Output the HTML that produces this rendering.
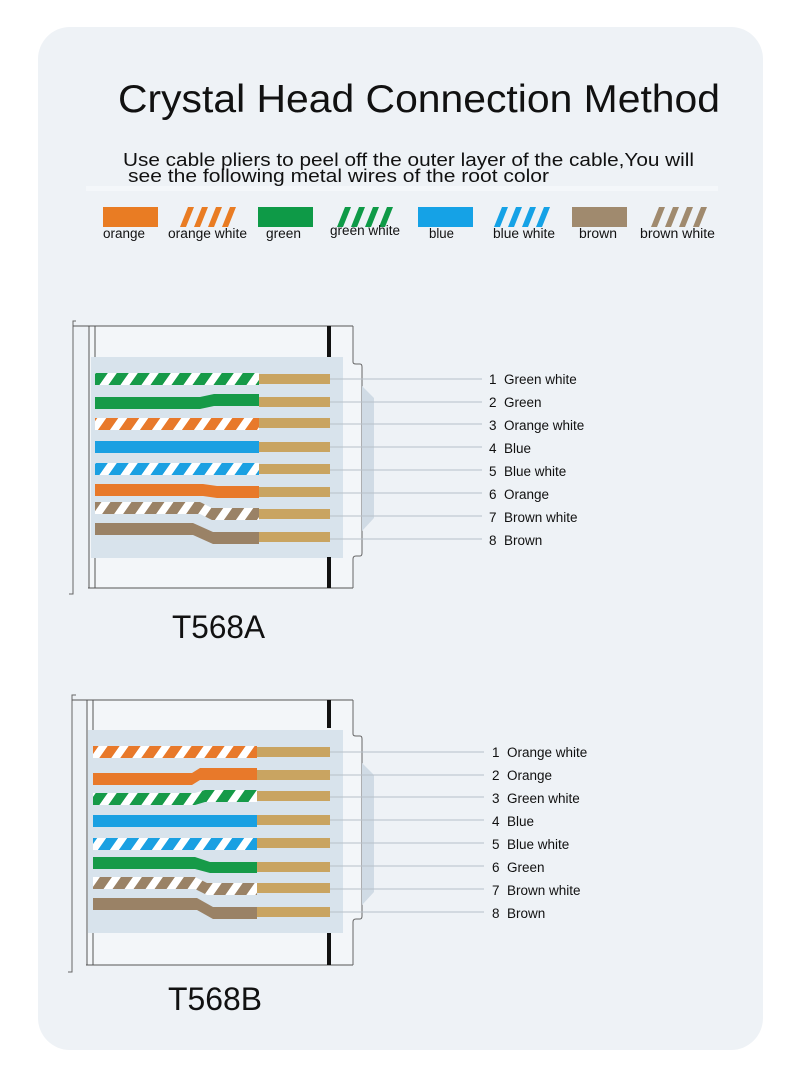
<!DOCTYPE html>
<html>
<head>
<meta charset="utf-8">
<style>
html,body{margin:0;padding:0;background:#ffffff;}
body{width:800px;height:1083px;overflow:hidden;}
svg{display:block;}
text{font-family:"Liberation Sans",sans-serif;fill:#111;}
</style>
</head>
<body>
<svg width="800" height="1083" viewBox="0 0 800 1083" xmlns="http://www.w3.org/2000/svg">
<defs>
  <pattern id="pgw" patternUnits="userSpaceOnUse" width="21" height="40" patternTransform="skewX(-35)">
    <rect width="21" height="40" fill="#ffffff"/><rect width="12" height="40" fill="#169a48"/>
  </pattern>
  <pattern id="pow" patternUnits="userSpaceOnUse" width="21" height="40" patternTransform="skewX(-35)">
    <rect width="21" height="40" fill="#ffffff"/><rect width="12" height="40" fill="#e8792a"/>
  </pattern>
  <pattern id="pbw" patternUnits="userSpaceOnUse" width="21" height="40" patternTransform="skewX(-35)">
    <rect width="21" height="40" fill="#ffffff"/><rect width="12" height="40" fill="#1aa0e2"/>
  </pattern>
  <pattern id="pbrw" patternUnits="userSpaceOnUse" width="21" height="40" patternTransform="skewX(-35)">
    <rect width="21" height="40" fill="#ffffff"/><rect width="12" height="40" fill="#9a8266"/>
  </pattern>
</defs>

<!-- card -->
<rect x="38" y="27" width="725" height="1023" rx="32" ry="32" fill="#eef2f6"/>
<rect x="86" y="186" width="632" height="5" fill="#f4f7fa"/>

<!-- title -->
<text x="118" y="112" font-size="39" textLength="602" lengthAdjust="spacingAndGlyphs">Crystal Head Connection Method</text>
<text x="123" y="166" font-size="18.5" textLength="571" lengthAdjust="spacingAndGlyphs">Use cable pliers to peel off the outer layer of the cable,You will</text>
<text x="128" y="182" font-size="18.5" textLength="421" lengthAdjust="spacingAndGlyphs">see the following metal wires of the root color</text>

<!-- legend -->
<rect x="103" y="207" width="55" height="20" fill="#e97c23"/>
<g fill="#e97c23">
  <polygon points="180,227 186,227 194,207 188,207"/>
  <polygon points="194,227 200,227 208,207 202,207"/>
  <polygon points="208,227 214,227 222,207 216,207"/>
  <polygon points="222,227 228,227 236,207 230,207"/>
</g>
<rect x="258" y="207" width="55" height="20" fill="#0e9a47"/>
<g fill="#0e9a47">
  <polygon points="337,227 343,227 351,207 345,207"/>
  <polygon points="351,227 357,227 365,207 359,207"/>
  <polygon points="365,227 371,227 379,207 373,207"/>
  <polygon points="379,227 385,227 393,207 387,207"/>
</g>
<rect x="418" y="207" width="55" height="20" fill="#15a2e6"/>
<g fill="#15a2e6">
  <polygon points="494,227 500,227 508,207 502,207"/>
  <polygon points="508,227 514,227 522,207 516,207"/>
  <polygon points="522,227 528,227 536,207 530,207"/>
  <polygon points="536,227 542,227 550,207 544,207"/>
</g>
<rect x="572" y="207" width="55" height="20" fill="#a08a6e"/>
<g fill="#a08a6e">
  <polygon points="651,227 657,227 665,207 659,207"/>
  <polygon points="665,227 671,227 679,207 673,207"/>
  <polygon points="679,227 685,227 693,207 687,207"/>
  <polygon points="693,227 699,227 707,207 701,207"/>
</g>
<g font-size="13.5">
  <text x="103" y="238" textLength="42" lengthAdjust="spacingAndGlyphs">orange</text>
  <text x="168" y="238" textLength="79" lengthAdjust="spacingAndGlyphs">orange white</text>
  <text x="266" y="238" textLength="35" lengthAdjust="spacingAndGlyphs">green</text>
  <text x="330" y="235" textLength="70" lengthAdjust="spacingAndGlyphs">green white</text>
  <text x="429" y="238" textLength="25" lengthAdjust="spacingAndGlyphs">blue</text>
  <text x="493" y="238" textLength="62" lengthAdjust="spacingAndGlyphs">blue white</text>
  <text x="579" y="238" textLength="38" lengthAdjust="spacingAndGlyphs">brown</text>
  <text x="640" y="238" textLength="75" lengthAdjust="spacingAndGlyphs">brown white</text>
</g>

<!-- ============ T568A connector ============ -->
<g>
  <rect x="89" y="326" width="264" height="262" fill="#f3f6f9"/>
  <path d="M76,321 H73 V594 H69" fill="none" stroke="#666" stroke-width="1"/>
  <line x1="73" y1="326" x2="353" y2="326" stroke="#555" stroke-width="1"/>
  <line x1="88" y1="588" x2="353" y2="588" stroke="#555" stroke-width="1"/>
  <line x1="89" y1="326" x2="89" y2="588" stroke="#555" stroke-width="1"/>
  <line x1="95" y1="326" x2="95" y2="588" stroke="#555" stroke-width="1"/>
  <!-- tab -->
  <path d="M353,326 V362 Q353,364 356,364 H360 Q362,364 362,367 V553 Q362,556 360,556 H356 Q353,556 353,559 V588" fill="#f3f6f9" stroke="#666" stroke-width="1"/>
  <polygon points="362,386 374,398 374,518 362,531" fill="#d0dbe5"/>
  <!-- panel -->
  <rect x="91" y="357" width="252" height="201" fill="#d8e3ec"/>
  <rect x="327" y="326" width="4" height="31" fill="#111"/>
  <rect x="327" y="557" width="4" height="31" fill="#111"/>
  <!-- leader lines -->
  <g stroke="#b7c0c9" stroke-width="1">
    <line x1="330" y1="379" x2="482" y2="379"/>
    <line x1="330" y1="402" x2="482" y2="402"/>
    <line x1="330" y1="424" x2="482" y2="424"/>
    <line x1="330" y1="447" x2="482" y2="447"/>
    <line x1="330" y1="470" x2="482" y2="470"/>
    <line x1="330" y1="493" x2="482" y2="493"/>
    <line x1="330" y1="516" x2="482" y2="516"/>
    <line x1="330" y1="539" x2="482" y2="539"/>
  </g>
  <!-- wires -->
  <rect x="95" y="373" width="164" height="12" fill="url(#pgw)"/>
  <path d="M95,397 H200 L214,394 H259 V406 H214 L200,409 H95 Z" fill="#169a48"/>
  <rect x="95" y="418" width="164" height="12" fill="url(#pow)"/>
  <rect x="95" y="441" width="164" height="12" fill="#1aa0e2"/>
  <rect x="95" y="463" width="164" height="12" fill="url(#pbw)"/>
  <path d="M95,484 H203 L217,486 H259 V498 H217 L203,496 H95 Z" fill="#e8792a"/>
  <path d="M95,502 H200 L212,508 H259 V520 H212 L200,514 H95 Z" fill="url(#pbrw)"/>
  <path d="M95,523 H193 L213,532 H259 V544 H213 L193,535 H95 Z" fill="#9a8266"/>
  <!-- gold contacts -->
  <g fill="#c9a461">
    <rect x="259" y="374" width="71" height="10"/>
    <rect x="259" y="397" width="71" height="10"/>
    <rect x="259" y="418" width="71" height="10"/>
    <rect x="259" y="442" width="71" height="10"/>
    <rect x="259" y="464" width="71" height="10"/>
    <rect x="259" y="487" width="71" height="10"/>
    <rect x="259" y="509" width="71" height="10"/>
    <rect x="259" y="532" width="71" height="10"/>
  </g>
  <!-- labels -->
  <g font-size="13.5">
    <text x="489" y="384">1</text><text x="504" y="384">Green white</text>
    <text x="489" y="407">2</text><text x="504" y="407">Green</text>
    <text x="489" y="430">3</text><text x="504" y="430">Orange white</text>
    <text x="489" y="453">4</text><text x="504" y="453">Blue</text>
    <text x="489" y="476">5</text><text x="504" y="476">Blue white</text>
    <text x="489" y="499">6</text><text x="504" y="499">Orange</text>
    <text x="489" y="522">7</text><text x="504" y="522">Brown white</text>
    <text x="489" y="545">8</text><text x="504" y="545">Brown</text>
  </g>
  <text x="172" y="638" font-size="32" textLength="93" lengthAdjust="spacingAndGlyphs">T568A</text>
</g>

<!-- ============ T568B connector ============ -->
<g>
  <rect x="87" y="700" width="266" height="265" fill="#f3f6f9"/>
  <path d="M76,695 H72 V972 H68" fill="none" stroke="#666" stroke-width="1"/>
  <line x1="72" y1="700" x2="353" y2="700" stroke="#555" stroke-width="1"/>
  <line x1="86" y1="965" x2="353" y2="965" stroke="#555" stroke-width="1"/>
  <line x1="87" y1="700" x2="87" y2="965" stroke="#555" stroke-width="1"/>
  <line x1="93" y1="700" x2="93" y2="965" stroke="#555" stroke-width="1"/>
  <path d="M353,700 V734 Q353,736 356,736 H360 Q362,736 362,739 V916 Q362,919 360,919 H356 Q353,919 353,922 V965" fill="#f3f6f9" stroke="#666" stroke-width="1"/>
  <polygon points="362,763 374,775 374,892 362,905" fill="#d0dbe5"/>
  <rect x="88" y="730" width="255" height="203" fill="#d8e3ec"/>
  <rect x="327" y="700" width="4" height="28" fill="#111"/>
  <rect x="327" y="933" width="4" height="32" fill="#111"/>
  <g stroke="#b7c0c9" stroke-width="1">
    <line x1="330" y1="752" x2="484" y2="752"/>
    <line x1="330" y1="775" x2="484" y2="775"/>
    <line x1="330" y1="797" x2="484" y2="797"/>
    <line x1="330" y1="820" x2="484" y2="820"/>
    <line x1="330" y1="843" x2="484" y2="843"/>
    <line x1="330" y1="866" x2="484" y2="866"/>
    <line x1="330" y1="889" x2="484" y2="889"/>
    <line x1="330" y1="912" x2="484" y2="912"/>
  </g>
  <rect x="93" y="746" width="164" height="12" fill="url(#pow)"/>
  <path d="M93,773 H192 L200,768 H257 V780 H200 L192,785 H93 Z" fill="#e8792a"/>
  <path d="M93,793 H195 L205,790 H257 V802 H205 L195,805 H93 Z" fill="url(#pgw)"/>
  <rect x="93" y="815" width="164" height="12" fill="#1aa0e2"/>
  <rect x="93" y="838" width="164" height="12" fill="url(#pbw)"/>
  <path d="M93,857 H195 L210,862 H257 V873 H210 L195,869 H93 Z" fill="#169a48"/>
  <path d="M93,877 H195 L207,883 H257 V895 H207 L195,889 H93 Z" fill="url(#pbrw)"/>
  <path d="M93,898 H197 L213,907 H257 V919 H213 L197,910 H93 Z" fill="#9a8266"/>
  <g fill="#c9a461">
    <rect x="257" y="747" width="73" height="10"/>
    <rect x="257" y="770" width="73" height="10"/>
    <rect x="257" y="791" width="73" height="10"/>
    <rect x="257" y="815" width="73" height="10"/>
    <rect x="257" y="838" width="73" height="10"/>
    <rect x="257" y="862" width="73" height="10"/>
    <rect x="257" y="883" width="73" height="10"/>
    <rect x="257" y="907" width="73" height="10"/>
  </g>
  <g font-size="13.5">
    <text x="492" y="757">1</text><text x="507" y="757">Orange white</text>
    <text x="492" y="780">2</text><text x="507" y="780">Orange</text>
    <text x="492" y="803">3</text><text x="507" y="803">Green white</text>
    <text x="492" y="826">4</text><text x="507" y="826">Blue</text>
    <text x="492" y="849">5</text><text x="507" y="849">Blue white</text>
    <text x="492" y="872">6</text><text x="507" y="872">Green</text>
    <text x="492" y="895">7</text><text x="507" y="895">Brown white</text>
    <text x="492" y="918">8</text><text x="507" y="918">Brown</text>
  </g>
  <text x="168" y="1010" font-size="32" textLength="94" lengthAdjust="spacingAndGlyphs">T568B</text>
</g>
</svg>
</body>
</html>
